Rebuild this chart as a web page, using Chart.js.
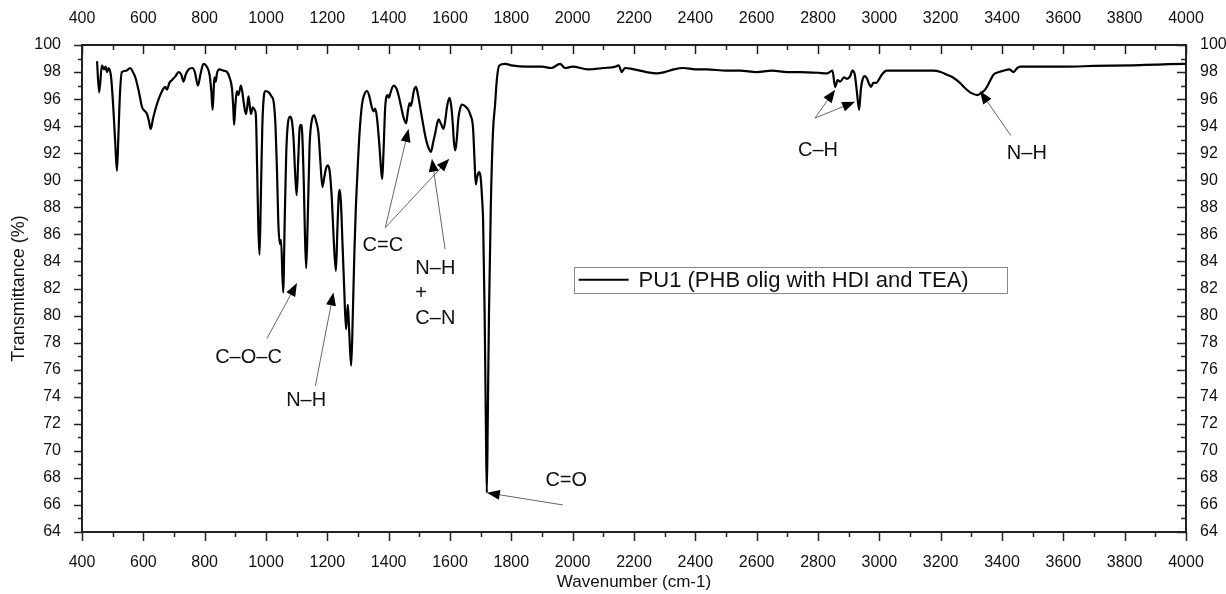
<!DOCTYPE html>
<html>
<head>
<meta charset="utf-8">
<script src="https://cdn.jsdelivr.net/npm/chart.js@4.4.1/dist/chart.umd.min.js"></script>
<style>
  body { margin: 0; background: #fff; }
  #wrap { width: 1226px; height: 594px; }
</style>
</head>
<body>
<div id="wrap"><canvas id="ftir" width="1226" height="594"></canvas></div>
<script>
// spectrum (cm-1, %T)
const fingerprintWn = [449, 456, 465, 472, 477, 482, 487, 495, 503, 509, 514, 519, 524, 530, 545, 557, 566, 574, 585, 596,
  606, 612, 618, 624, 632, 644, 655, 666, 672, 677, 685, 693, 705, 715, 724, 731, 738, 748, 760, 768,
  778, 786, 796, 807, 816, 822, 826, 830, 832, 836, 840, 848, 862, 873, 881, 889, 893, 896, 900, 905,
  910, 918, 923, 927, 931, 935, 939, 943, 947, 951, 957, 963, 967, 971, 975, 979, 983, 988, 993, 998,
  1009, 1018, 1025, 1031, 1036, 1040, 1045, 1049, 1056, 1061, 1066, 1072, 1079, 1085, 1090, 1095, 1100, 1105, 1110, 1114,
  1118, 1123, 1127, 1131, 1136, 1142, 1150, 1157, 1164, 1171, 1177, 1184, 1190, 1196, 1202, 1208, 1215, 1221, 1228, 1233,
  1237, 1240, 1244, 1250, 1255, 1261, 1264, 1267, 1270, 1274, 1278, 1283, 1288, 1293, 1297, 1305, 1313, 1320, 1329, 1336,
  1345, 1351, 1356, 1362, 1370, 1376, 1379, 1383, 1389, 1397, 1401, 1405, 1416, 1425, 1432, 1440, 1448, 1457, 1462, 1468,
  1472, 1476, 1482, 1489, 1495, 1502, 1508, 1515, 1522, 1530, 1538, 1545, 1552, 1558, 1563, 1570, 1579, 1585, 1590, 1598,
  1604, 1609, 1613, 1617, 1622, 1627, 1633, 1639, 1648, 1660, 1667, 1675, 1680, 1684, 1689, 1695, 1700, 1705, 1708, 1713,
  1717, 1720, 1723, 1727, 1733, 1740, 1747, 1753, 1761, 1780];
const fingerprintT = [98.8, 96.5, 98.5, 98.2, 98.4, 98.0, 98.3, 97.6, 95.0, 92.5, 90.7, 93.5, 96.5, 98.0, 98.1, 98.3, 98.0, 97.6, 96.6, 95.4,
  95.1, 94.9, 94.4, 93.8, 94.6, 95.6, 96.3, 96.8, 96.9, 96.7, 97.2, 97.4, 97.7, 98.0, 97.8, 97.3, 97.8, 98.2, 98.3, 98.0,
  97.0, 97.8, 98.6, 98.4, 97.8, 96.5, 95.2, 97.0, 97.6, 97.3, 97.9, 98.2, 98.1, 98.0, 97.6, 96.8, 95.5, 94.1, 95.5, 96.6,
  96.3, 97.0, 96.5, 95.8, 95.2, 94.9, 95.5, 96.2, 95.5, 94.9, 95.4, 95.2, 94.8, 91.0, 86.5, 84.5, 88.5, 94.0, 96.2, 96.6,
  96.5, 96.2, 95.8, 94.0, 90.6, 87.0, 85.3, 85.6, 81.7, 87.0, 92.0, 94.3, 94.7, 94.3, 93.0, 90.5, 88.9, 91.5, 93.9, 94.1,
  93.5, 90.0, 86.0, 83.5, 87.0, 92.5, 94.5, 94.8, 94.3, 93.5, 91.5, 89.5, 90.2, 90.9, 91.1, 90.6, 88.5, 85.5, 83.3, 86.5,
  88.8, 89.3, 88.5, 85.0, 82.0, 79.0, 80.0, 80.8, 79.5, 77.5, 76.3, 80.0, 84.5, 88.0, 90.0, 93.5, 95.6, 96.3, 96.6, 96.3,
  95.4, 95.1, 95.3, 94.6, 92.5, 90.6, 90.1, 92.0, 95.5, 96.3, 96.1, 96.4, 97.0, 96.8, 96.3, 95.5, 94.7, 94.2, 95.0, 95.7,
  95.5, 95.8, 96.6, 96.9, 96.4, 95.5, 94.7, 93.8, 93.0, 92.4, 92.1, 92.8, 93.5, 94.2, 94.5, 94.2, 93.8, 94.5, 95.4, 96.1,
  95.5, 94.2, 92.8, 92.2, 93.0, 94.5, 95.3, 95.6, 95.5, 95.2, 94.8, 93.9, 91.5, 89.7, 90.3, 90.6, 90.2, 88.5, 87.0, 80.0,
  72.0, 66.9, 72.0, 80.0, 88.0, 93.5, 95.6, 97.5, 98.5, 98.6];

const highWn = [1800, 1850, 1900, 1930, 1959, 1975, 2000, 2050, 2100, 2140, 2150, 2160, 2170, 2200, 2240, 2274, 2300, 2330, 2361, 2400,
  2437, 2500, 2546, 2600, 2650, 2700, 2742, 2800, 2829, 2847, 2856, 2864, 2872, 2885, 2895, 2905, 2912, 2920, 2927, 2934,
  2940, 2946, 2953, 2960, 2967, 2973, 2980, 2990, 3000, 3008, 3024, 3100, 3176, 3200, 3220, 3240, 3263, 3280, 3296, 3320,
  3335, 3345, 3360, 3372, 3390, 3405, 3425, 3437, 3450, 3459, 3500, 3611, 3700, 3828, 3900, 3992, 4000];
const highT = [98.5, 98.4, 98.4, 98.3, 98.6, 98.3, 98.4, 98.2, 98.3, 98.4, 98.5, 98.0, 98.3, 98.2, 98.0, 97.9, 98.0, 98.2, 98.3, 98.2,
  98.2, 98.1, 98.1, 98.0, 98.1, 98.0, 98.0, 97.95, 97.9, 98.1, 96.9, 97.4, 97.3, 97.6, 97.5, 97.7, 98.1, 97.8, 96.5, 95.2,
  96.8, 97.5, 97.7, 97.5, 97.1, 96.9, 97.2, 97.2, 97.5, 97.8, 98.1, 98.1, 98.1, 98.0, 97.8, 97.6, 97.2, 96.8, 96.5, 96.3,
  96.5, 96.7, 97.3, 97.8, 98.0, 98.1, 98.2, 98.0, 98.3, 98.4, 98.4, 98.4, 98.45, 98.5, 98.55, 98.6, 98.6];

const seriesLabel = "PU1 (PHB olig with HDI and TEA)";
const xRange = [400, 4000];
const yRange = [64, 100];
const xStep = 200;
const yStep = 2;

// band assignments, placed in data units
const bandLabels = [
  { text: "C\u2013O\u2013C", x: 943, y: 76.9, align: "center" },
  { text: "N\u2013H", x: 1131, y: 73.7, align: "center" },
  { text: "C=C", x: 1381, y: 85.2, align: "center" },
  { text: "N\u2013H", x: 1487, y: 83.5, align: "left" },
  { text: "+", x: 1487, y: 81.6, align: "left" },
  { text: "C\u2013N", x: 1487, y: 79.8, align: "left" },
  { text: "C=O", x: 1979, y: 67.8, align: "center" },
  { text: "C\u2013H", x: 2800, y: 92.2, align: "center" },
  { text: "N\u2013H", x: 3481, y: 92.0, align: "center" }
];
const bandArrows = [
  { from: [1003, 78.3], to: [1101, 82.4] },
  { from: [1161, 74.8], to: [1220, 81.7] },
  { from: [1389, 86.5], to: [1465, 93.8] },
  { from: [1389, 86.5], to: [1598, 91.6] },
  { from: [1584, 84.9], to: [1541, 91.6] },
  { from: [1968, 66.0], to: [1720, 66.9] },
  { from: [2790, 94.6], to: [2856, 96.7] },
  { from: [2790, 94.6], to: [2921, 95.8] },
  { from: [3429, 93.3], to: [3328, 96.6] }
];
const legendBox = { x0: 2003, y0: 83.6, x1: 3416, y1: 81.7 };

const points = fingerprintWn.map((w, i) => ({ x: w, y: fingerprintT[i] }))
  .concat(highWn.map((w, i) => ({ x: w, y: highT[i] })));

const FONT = "'Liberation Sans', Arial, sans-serif";
const INK = "#111";

function line(ctx, x0, y0, x1, y1) {
  ctx.beginPath();
  ctx.moveTo(x0, y0);
  ctx.lineTo(x1, y1);
  ctx.stroke();
}

const decorations = {
  id: "decorations",
  afterDraw(chart) {
    const { ctx, chartArea: a, scales } = chart;
    const sx = (v) => scales.x.getPixelForValue(v);
    const sy = (v) => scales.y.getPixelForValue(v);
    ctx.save();

    // minor / major ticks, Origin style
    ctx.strokeStyle = "#222";
    ctx.lineWidth = 1.5;
    for (let v = xRange[0]; v <= xRange[1]; v += xStep / 2) {
      const px = Math.round(sx(v)) + 0.5;
      const len = v % xStep === 0 ? 9 : 5;
      line(ctx, px, a.bottom, px, a.bottom + len);
      line(ctx, px, a.top, px, a.top + len);
    }
    for (let v = yRange[0]; v <= yRange[1]; v += yStep / 2) {
      const py = Math.round(sy(v)) + 0.5;
      const len = v % yStep === 0 ? 8 : 4;
      line(ctx, a.left - len, py, a.left, py);
      line(ctx, a.right - len - 1, py, a.right, py);
    }

    // arrows
    bandArrows.forEach((ar) => {
      const x0 = sx(ar.from[0]), y0 = sy(ar.from[1]);
      const x1 = sx(ar.to[0]), y1 = sy(ar.to[1]);
      const ang = Math.atan2(y1 - y0, x1 - x0);
      const hl = 13, hw = 5;
      const bx = x1 - hl * Math.cos(ang), by = y1 - hl * Math.sin(ang);
      ctx.strokeStyle = "#666";
      ctx.lineWidth = 1;
      line(ctx, x0, y0, bx, by);
      ctx.fillStyle = "#000";
      ctx.beginPath();
      ctx.moveTo(x1, y1);
      ctx.lineTo(bx + hw * Math.sin(ang), by - hw * Math.cos(ang));
      ctx.lineTo(bx - hw * Math.sin(ang), by + hw * Math.cos(ang));
      ctx.closePath();
      ctx.fill();
    });

    // labels
    ctx.fillStyle = INK;
    ctx.font = "20px " + FONT;
    ctx.textBaseline = "middle";
    bandLabels.forEach((l) => {
      ctx.textAlign = l.align;
      ctx.fillText(l.text, sx(l.x), sy(l.y));
    });

    // legend box
    const lx = sx(legendBox.x0), ly = sy(legendBox.y0);
    const lw = sx(legendBox.x1) - lx, lh = sy(legendBox.y1) - ly;
    ctx.fillStyle = "#fff";
    ctx.fillRect(lx, ly, lw, lh);
    ctx.strokeStyle = "#888";
    ctx.lineWidth = 1;
    ctx.strokeRect(Math.round(lx) + 0.5, Math.round(ly) + 0.5, Math.round(lw), Math.round(lh));
    ctx.strokeStyle = "#000";
    ctx.lineWidth = 2;
    line(ctx, lx + 5, ly + lh / 2, lx + 55, ly + lh / 2);
    ctx.fillStyle = INK;
    ctx.font = "22px " + FONT;
    ctx.textAlign = "left";
    ctx.fillText(seriesLabel, lx + 65, ly + lh / 2 + 1);
    ctx.restore();
  }
};

const axisBorder = { display: true, color: "#222", width: 2 };
const tickFont = { family: FONT, size: 16 };
const plain = (v) => String(v);

new Chart(document.getElementById("ftir"), {
  type: "line",
  data: {
    datasets: [{
      label: seriesLabel,
      data: points,
      borderColor: "#000",
      borderWidth: 2.2,
      pointRadius: 0,
      fill: false,
      cubicInterpolationMode: "monotone"
    }]
  },
  options: {
    responsive: false,
    animation: false,
    layout: { padding: 0 },
    plugins: { legend: { display: false }, tooltip: { enabled: false } },
    scales: {
      x: {
        type: "linear", position: "bottom", min: xRange[0], max: xRange[1],
        grid: { display: false }, border: axisBorder,
        ticks: { stepSize: xStep, font: tickFont, color: INK, padding: 13, maxRotation: 0, autoSkip: false, callback: plain },
        title: { display: true, text: "Wavenumber (cm-1)", font: { family: FONT, size: 17 }, color: INK, padding: { bottom: 1, top: 0 } },
        afterFit: (s) => { s.height = 62; }
      },
      x2: {
        type: "linear", axis: "x", position: "top", min: xRange[0], max: xRange[1],
        grid: { display: false }, border: axisBorder,
        ticks: { stepSize: xStep, font: tickFont, color: INK, padding: 9, maxRotation: 0, autoSkip: false, callback: plain },
        afterFit: (s) => { s.height = 45; }
      },
      y: {
        type: "linear", position: "left", min: yRange[0], max: yRange[1],
        grid: { display: false }, border: axisBorder,
        ticks: { stepSize: yStep, font: tickFont, color: INK, padding: 13, callback: plain },
        title: { display: true, text: "Transmittance (%)", font: { family: FONT, size: 18 }, color: INK, padding: { top: 8, bottom: 0 } },
        afterFit: (s) => { s.width = 82; }
      },
      y2: {
        type: "linear", axis: "y", position: "right", min: yRange[0], max: yRange[1],
        grid: { display: false }, border: axisBorder,
        ticks: { stepSize: yStep, font: tickFont, color: INK, padding: 6, callback: plain },
        afterFit: (s) => { s.width = 40; }
      }
    }
  },
  plugins: [decorations]
});
</script>
</body>
</html>
